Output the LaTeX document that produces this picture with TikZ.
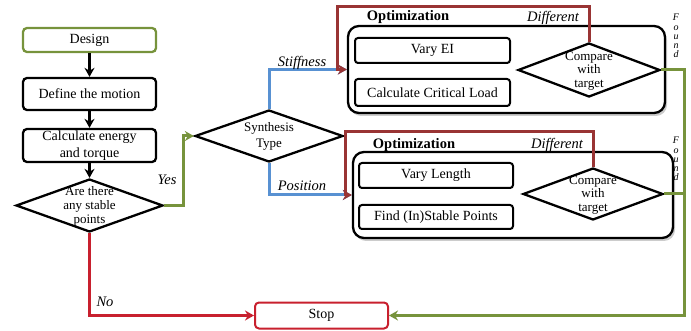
\documentclass[tikz,border=0pt]{standalone}
\usepackage{fontspec}
\setmainfont{Liberation Serif}
\usetikzlibrary{shapes.geometric,arrows.meta,shadows}
\definecolor{cgreen}{RGB}{119,147,60}
\definecolor{cblue}{RGB}{88,145,210}
\definecolor{cred}{RGB}{200,32,46}
\definecolor{cmaroon}{RGB}{153,52,52}
\begin{document}
\begin{tikzpicture}[x=1pt,y=-1pt,
  box/.style={draw=black,line width=2.3pt,rounded corners=4pt,inner sep=0pt,align=center,font=\fontsize{14}{17}\selectfont},
  dia/.style={draw=black,line width=2.3pt,diamond,inner sep=0pt},
  dtext/.style={align=center,inner sep=0pt,font=\fontsize{13}{14}\selectfont},
  optbox/.style={draw=black,line width=2.3pt,rounded corners=11pt,fill=white,drop shadow={shadow xshift=2pt,shadow yshift=-3pt,opacity=0.4,fill=gray}},
  lab/.style={font=\itshape\fontsize{14.5}{17}\selectfont,inner sep=0pt},
  title/.style={font=\bfseries\fontsize{14.5}{17}\selectfont,inner sep=0pt},
  found/.style={font=\itshape\fontsize{10}{9.2}\selectfont,align=center,inner sep=0pt},
  arr/.style={line width=3.2pt,-{Stealth[length=9pt,width=10pt]}},
  carr/.style={line width=3pt,-{Stealth[length=9pt,width=10pt]}},
  cline/.style={line width=3pt}
]
\useasboundingbox (0,0) rectangle (691,331);

% left column
\node[box,draw=cgreen,minimum width=133pt,minimum height=24pt] (design) at (89.5,40) {Design};
\node[box,minimum width=133pt,minimum height=32pt] (motion) at (89.5,94) {Define the motion};
\node[box,minimum width=133pt,minimum height=33pt] (energy) at (89.5,145.5) {Calculate energy\\and torque};
\node[dia,minimum width=147pt,minimum height=53pt] (stable) at (89.5,205.5) {};
\node[dtext] (stableT) at (89.5,206.5) {Are there\\any stable\\points};

% synthesis
\node[dia,minimum width=148pt,minimum height=52pt] (synth) at (269,136) {};
\node[dtext,font=\fontsize{13}{16}\selectfont] (synthT) at (269,136.5) {Synthesis\\Type};

% top optimization
\node[optbox,minimum width=317pt,minimum height=87pt] (opt1) at (506.5,69.5) {};
\node[box,line width=2pt,rounded corners=3pt,minimum width=155pt,minimum height=25pt] (varyEI) at (432.5,50.5) {Vary EI};
\node[box,line width=2pt,rounded corners=3pt,minimum width=155pt,minimum height=27pt] (critical) at (432.5,92.5) {Calculate Critical Load};
\node[dia,minimum width=142pt,minimum height=54pt] (cmp1) at (589,70) {};
\node[dtext,font=\fontsize{13}{13.5}\selectfont] (cmp1T) at (589,71) {Compare\\with\\target};
\node[title] (t1) at (408,17) {Optimization};
\node[lab] (d1) at (553,18) {Different};
\node[found] (f1) at (676,36) {F\\o\\u\\n\\d};

% bottom optimization
\node[optbox,minimum width=320pt,minimum height=86pt] (opt2) at (513,195) {};
\node[box,line width=2pt,rounded corners=3pt,minimum width=154pt,minimum height=25pt] (varyL) at (436,175.5) {Vary Length};
\node[box,line width=2pt,rounded corners=3pt,minimum width=154pt,minimum height=24pt] (findS) at (436,217) {Find (In)Stable Points};
\node[dia,minimum width=140pt,minimum height=52pt] (cmp2) at (593,194) {};
\node[dtext,font=\fontsize{13}{13.5}\selectfont] (cmp2T) at (593,195) {Compare\\with\\target};
\node[title] (t2) at (414,145) {Optimization};
\node[lab] (d2) at (557,145) {Different};
\node[found] (f2) at (676,159) {F\\o\\u\\n\\d};

% stop
\node[box,draw=cred,line width=2pt,minimum width=133pt,minimum height=26pt] (stop) at (321.5,315.5) {Stop};

% black arrows
\draw[arr] (design) -- (motion);
\draw[arr] (motion) -- (energy);
\draw[arr] (energy) -- (stable.north);

% yes / no
\draw[carr,cgreen] (stable.east) -- ++(19,0) |- (synth.west);
\node[lab] (yes) at (167,180) {Yes};
\draw[carr,cred] (stable.south) |- (stop.west);
\node[lab] (no) at (105,302) {No};

% synthesis branches
\draw[carr,cblue] (synth.north) |- (opt1.west);
\node[lab] (stiff) at (302,63) {Stiffness};
\draw[carr,cblue] (synth.south) |- (opt2.west);
\node[lab] (pos) at (302,186) {Position};

% loops
\draw[carr,cmaroon] (cmp1.north) -- ++(0,-35) -| ([xshift=-9pt]opt1.west) -- (opt1.west);
\draw[carr,cmaroon] (cmp2.north) -- ++(0,-35) -| ([xshift=-6pt]opt2.west) -- (opt2.west);

% found
\draw[carr,cgreen] (cmp1.east) -- ++(23,0) |- (stop.east);
\draw[cline,cgreen] (cmp2.east) -- ++(20,0);
\end{tikzpicture}
\end{document}
